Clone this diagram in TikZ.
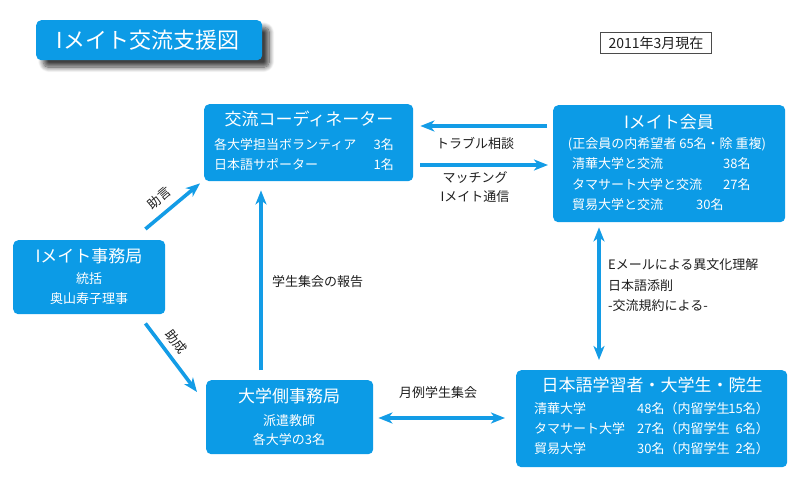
\documentclass[tikz,border=0pt]{standalone}
\usepackage{fontspec}
\setmainfont{Noto Sans CJK JP}
\usetikzlibrary{arrows.meta,shadows.blur}
\definecolor{boxblue}{HTML}{0C9BE6}
\definecolor{arrblue}{HTML}{139CE6}
\definecolor{ink}{HTML}{1E1E1E}
\begin{document}
\begin{tikzpicture}[x=1pt,y=-1pt,
  box/.style={fill=boxblue, rounded corners=5pt, inner sep=0pt, anchor=north west},
  ttl/.style={text=white, font=\fontsize{22}{24}\selectfont, inner sep=0pt},
  big/.style={text=white, font=\fontsize{17}{19}\selectfont, inner sep=0pt},
  sm/.style={text=white, font=\fontsize{13}{15}\selectfont, inner sep=0pt},
  lbl/.style={text=ink, font=\fontsize{13}{15}\selectfont, inner sep=0pt},
  tip/.tip={Stealth[length=14pt,width=11pt,inset=4pt]},
  arr/.style={draw=arrblue, line width=3.6pt, -tip},
  darr/.style={draw=arrblue, line width=3.6pt, tip-tip}]
\useasboundingbox (0,0) rectangle (800,481);

% title
\node[box, minimum width=226pt, minimum height=40pt,
  blur shadow={shadow xshift=7pt, shadow yshift=-7pt, shadow blur radius=5pt, shadow opacity=75, shadow blur steps=12}]
  (title) at (36,20) {};
\node[ttl] (titletext) at (148,40) {Iメイト交流支援図};

% date
\node[draw=ink!80, line width=1.1pt, minimum width=111pt, minimum height=21pt, inner sep=0pt, anchor=north west,
  font=\fontsize{14}{16}\selectfont, text=ink] (date) at (600,32) {2011年3月現在};

% coordinator
\node[box, minimum width=209pt, minimum height=77pt] (coord) at (204,104) {};
\node[big] (coordt) at (309,119) {交流コーディネーター};
\node[sm, anchor=west] (c1) at (214,145) {各大学担当ボランティア};
\node[sm, anchor=east] (c1n) at (394,145) {3名};
\node[sm, anchor=west] (c2) at (214,165) {日本語サポーター};
\node[sm, anchor=east] (c2n) at (394,165) {1名};

% member
\node[box, minimum width=232pt, minimum height=117pt] (member) at (553,105) {};
\node[big] (membert) at (669,122) {Iメイト会員};
\node[sm] (m0) at (667,144) {(正会員の内希望者 65名・除 重複)};
\node[sm, anchor=west] (m1) at (572,164) {清華大学と交流};
\node[sm, anchor=west] (m1n) at (723,164) {38名};
\node[sm, anchor=west] (m2) at (572,185) {タマサート大学と交流};
\node[sm, anchor=west] (m2n) at (723,185) {27名};
\node[sm, anchor=west] (m3) at (572,205) {貿易大学と交流};
\node[sm, anchor=west] (m3n) at (696,205) {30名};

% office
\node[box, minimum width=152pt, minimum height=74pt] (office) at (13,240) {};
\node[big] (officet) at (89,256) {Iメイト事務局};
\node[sm] (o1) at (89,279) {統括};
\node[sm] (o2) at (89,299) {奥山寿子理事};

% university office
\node[box, minimum width=167pt, minimum height=74pt] (univ) at (206,380) {};
\node[big] (univt) at (289,396) {大学側事務局};
\node[sm] (u1) at (289,421) {派遣教師};
\node[sm] (u2) at (289,440) {各大学の3名};

% learners
\node[box, minimum width=271pt, minimum height=97pt] (learn) at (516,370) {};
\node[big] (learnt) at (652,385) {日本語学習者・大学生・院生};
\node[sm, anchor=west] (l1) at (534,409) {清華大学};
\node[sm, anchor=west] (l1n) at (637,409) {48名（内留学生};
\node[sm, anchor=east] (l1m) at (769,409) {15名）};
\node[sm, anchor=west] (l2) at (534,429) {タマサート大学};
\node[sm, anchor=west] (l2n) at (637,429) {27名（内留学生};
\node[sm, anchor=east] (l2m) at (769,429) {6名）};
\node[sm, anchor=west] (l3) at (534,449) {貿易大学};
\node[sm, anchor=west] (l3n) at (637,449) {30名（内留学生};
\node[sm, anchor=east] (l3m) at (769,449) {2名）};

% connectors
\draw[arr] ([shift={(-6,21)}]member.north west) -- ([shift={(7,22)}]coord.north east);
\draw[arr] ([shift={(7,61)}]coord.north east) -- ([shift={(-5,60)}]member.north west);
\draw[arr] ([shift={(-20,-11)}]office.north east) -- ([shift={(-4,2)}]coord.south west);
\draw[arr] ([shift={(-20,9)}]office.south east) -- ([shift={(-9,12)}]univ.north west);
\draw[arr] ([shift={(55,-10)}]univ.north west) -- ([shift={(57,9)}]coord.south west);
\draw[darr] ([shift={(46,5)}]member.south west) -- ([shift={(83,-10)}]learn.north west);
\draw[darr] ([shift={(5,38)}]univ.north east) -- ([shift={(-11,48)}]learn.north west);

% labels
\node[lbl] (lt) at (475,143) {トラブル相談};
\node[lbl] (lm1) at (475,178) {マッチング};
\node[lbl] (lm2) at (475,197) {Iメイト通信};
\node[lbl, rotate=40] (ljo) at (159,198) {助言};
\node[lbl, rotate=-53] (ljs) at (176,342) {助成};
\node[lbl, anchor=west] (lrep) at (272,282) {学生集会の報告};
\node[lbl, anchor=west] (le1) at (608,265) {Eメールによる異文化理解};
\node[lbl, anchor=west] (le2) at (608,286) {日本語添削};
\node[lbl, anchor=west] (le3) at (608,306) {-交流規約による-};
\node[lbl] (lmon) at (438,393) {月例学生集会};
\end{tikzpicture}
\end{document}
